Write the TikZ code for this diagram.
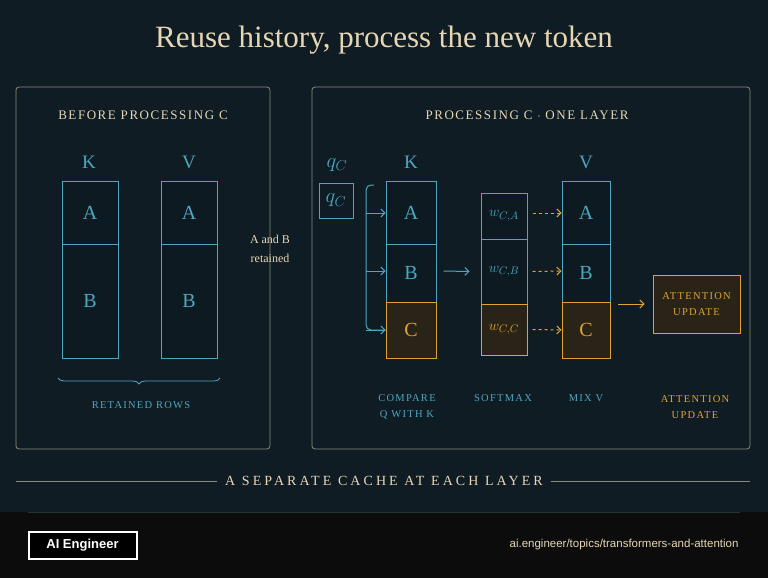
\documentclass[tikz,border=0pt]{standalone}
\usepackage{fontspec}
\setmainfont{Liberation Serif}
\newfontfamily\footfont{Liberation Sans}
\newfontfamily\spcfont{Liberation Serif}[LetterSpace=12]
\newfontfamily\widefont{Liberation Serif}[LetterSpace=22]
\usetikzlibrary{arrows.meta,decorations.pathreplacing,calc}

\definecolor{bgblue}{HTML}{0F1C24}
\definecolor{cellbg}{HTML}{0D1A22}
\definecolor{hotbg}{HTML}{2A2418}
\definecolor{footbg}{HTML}{0C0C0C}
\definecolor{cream}{HTML}{E6D6B4}
\definecolor{teal}{HTML}{4FA6BE}
\definecolor{gold}{HTML}{E0A232}
\definecolor{frame}{HTML}{8C8A80}
\definecolor{rule}{HTML}{26302F}

\tikzset{
  panel/.style={draw=frame, line width=0.8pt, rounded corners=3pt},
  cell/.style={draw=teal, line width=1pt, fill=cellbg, text=teal, font=\fontsize{20}{22}\selectfont},
  hot/.style={draw=gold, line width=1pt, fill=hotbg, text=gold, font=\fontsize{20}{22}\selectfont},
  caption/.style={font=\spcfont\fontsize{10.5}{16}\selectfont, align=center},
  link/.style={-{Straight Barb[length=4pt]}, line width=1pt},
}

\begin{document}
\begin{tikzpicture}[x=1pt, y=-1pt]
	\useasboundingbox (0,0) rectangle (768,578);
	\fill[bgblue] (0,0) rectangle (768,512);
	\fill[footbg] (0,512) rectangle (768,578);
	\draw[rule] (28,512) -- (740,512);

	% title
	\node[text=cream, font=\fontsize{31}{34}\selectfont] (title) at (384,40) {Reuse history, process the new token};

	% left panel
	\draw[panel] (16,87) rectangle (270,449);
	\node[text=cream, caption, font=\spcfont\fontsize{13}{15}\selectfont] (lhead) at (143,115) {BEFORE PROCESSING C};
	\node[text=teal, font=\fontsize{19}{20}\selectfont] (lk) at (89,162) {K};
	\node[text=teal, font=\fontsize{19}{20}\selectfont] (lv) at (189,162) {V};
	\node[cell, minimum width=56pt, minimum height=63pt] (lka) at (90,212.5) {A};
	\node[cell, minimum width=56pt, minimum height=114pt] (lkb) at (90,301) {B};
	\node[cell, minimum width=56pt, minimum height=63pt] (lva) at (189,212.5) {A};
	\node[cell, minimum width=56pt, minimum height=114pt] (lvb) at (189,301) {B};
	\draw[teal, line width=0.8pt, decorate, decoration={brace, mirror, amplitude=6pt}] (58,378) -- (220,378);
	\node[text=teal, caption] (rows) at (141,405) {RETAINED ROWS};
	\node[text=cream, font=\fontsize{12}{19}\selectfont, align=center] (kept) at (270,249) {A and B\\retained};

	% right panel
	\draw[panel] (312,87) rectangle (750,449);
	\node[text=cream, caption, font=\spcfont\fontsize{13}{15}\selectfont] (rhead) at (527,115) {PROCESSING C $\cdot$ ONE LAYER};
	\node[text=teal, font=\fontsize{21}{22}\selectfont] (qlab) at (337,165) {$q_C$};
	\node[draw=teal, line width=1pt, text=teal, minimum width=34pt, minimum height=35pt, font=\fontsize{21}{22}\selectfont] (q) at (336,200.5) {$q_C$};

	\node[text=teal, font=\fontsize{19}{20}\selectfont] (rk) at (411,162) {K};
	\node[cell, minimum width=50pt, minimum height=63pt] (ka) at (411,212.5) {A};
	\node[cell, minimum width=50pt, minimum height=58pt] (kb) at (411,273) {B};
	\node[hot, minimum width=50pt, minimum height=56pt] (kc) at (411,330) {C};

	\node[cell, minimum width=46pt, minimum height=46pt, font=\fontsize{15}{16}\selectfont] (wa) at (504,216) {$w_{C,A}$};
	\node[cell, minimum width=46pt, minimum height=65pt, font=\fontsize{15}{16}\selectfont] (wb) at (504,271.5) {$w_{C,B}$};
	\node[hot, minimum width=46pt, minimum height=51pt, font=\fontsize{15}{16}\selectfont] (wc) at (504,329.5) {$w_{C,C}$};

	\node[text=teal, font=\fontsize{19}{20}\selectfont] (rv) at (586,162) {V};
	\node[cell, minimum width=48pt, minimum height=63pt] (va) at (586,212.5) {A};
	\node[cell, minimum width=48pt, minimum height=58pt] (vb) at (586,273) {B};
	\node[hot, minimum width=48pt, minimum height=56pt] (vc) at (586,330) {C};

	\node[draw=gold, line width=1pt, fill=hotbg, text=gold, minimum width=87pt, minimum height=58pt, caption] (att) at (696.5,304) {ATTENTION\\UPDATE};

	% connectors
	\coordinate (bt) at (366,185);
	\draw[teal, line width=1pt, rounded corners=5pt] ($(bt)+(8,0)$) -- (bt) -- (366,330) -- (kc.west);
	\draw[teal, link] (366,213) -- (ka.west |- 0,213);
	\draw[teal, link] (366,271) -- (kb.west |- 0,271);
	\draw[teal, link] (366,330) -- (kc.west);
	\draw[teal, link] ($(kb.east)+(7,-2)$) -- ($(wb.west)+(-11,0)$);
	\draw[gold, link, dashed] ($(wa.east)+(5,-3)$) -- (va.west |- 0,213);
	\draw[gold, link, dashed] ($(wb.east)+(5,0)$) -- (vb.west |- 0,271);
	\draw[gold, link, dashed] ($(wc.east)+(5,0)$) -- (vc.west |- 0,330);
	\draw[gold, link] (618,304) -- ($(att.west)+(-8,0)$);

	% step captions
	\node[text=teal, caption] (s1) at (407,407) {COMPARE\\Q WITH K};
	\node[text=teal, caption] (s2) at (503,398) {SOFTMAX};
	\node[text=teal, caption] (s3) at (586,398) {MIX V};
	\node[text=gold, caption] (s4) at (695,407) {ATTENTION\\UPDATE};

	% bottom rule
	\node[text=cream, inner xsep=8pt, font=\widefont\fontsize{14}{16}\selectfont] (foot) at (384,481) {A SEPARATE CACHE AT EACH LAYER};
	\draw[frame, line width=0.8pt] (16,481) -- (foot.west);
	\draw[frame, line width=0.8pt] (foot.east) -- (750,481);

	% footer
	\node[draw=white, line width=2pt, fill=black, text=white, minimum width=108pt, minimum height=27pt, font=\footfont\bfseries\fontsize{13}{15}\selectfont] (logo) at (82.5,545) {AI Engineer};
	\node[anchor=east, text=cream, font=\footfont\fontsize{11.5}{13}\selectfont] (url) at (742,545) {ai.engineer/topics/transformers-and-attention};
\end{tikzpicture}
\end{document}
